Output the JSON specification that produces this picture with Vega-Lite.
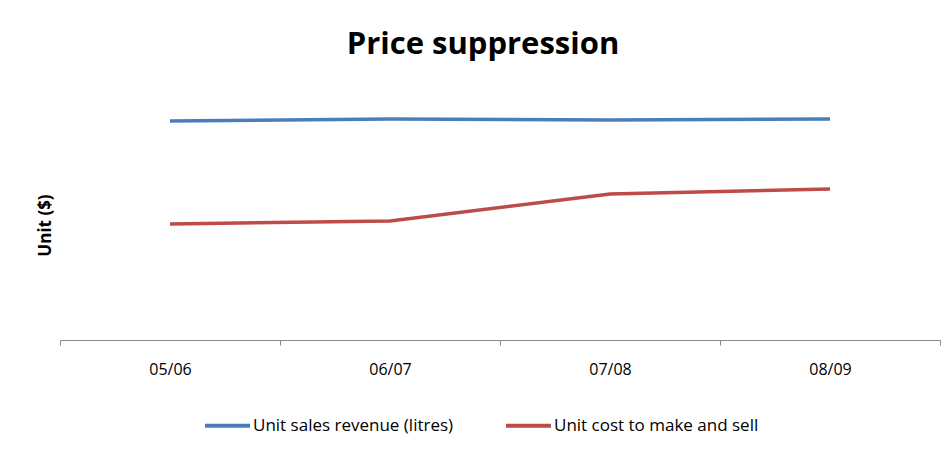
{
  "$schema": "https://vega.github.io/schema/vega-lite/v6.json",
  "width": 880,
  "height": 250,
  "autosize": {"type": "none"},
  "padding": {"left": 60, "top": 90, "right": 8, "bottom": 112},
  "background": "white",
  "title": {
    "text": "Price suppression",
    "font": "Open Sans",
    "fontSize": 31,
    "fontWeight": "bold",
    "color": "black",
    "anchor": "middle",
    "dx": -17,
    "baseline": "alphabetic",
    "offset": 5
  },
  "data": {
    "values": [
      {"year": "05/06", "series": "Unit sales revenue (litres)", "value": 87.6},
      {"year": "06/07", "series": "Unit sales revenue (litres)", "value": 88.4},
      {"year": "07/08", "series": "Unit sales revenue (litres)", "value": 88.0},
      {"year": "08/09", "series": "Unit sales revenue (litres)", "value": 88.4},
      {"year": "05/06", "series": "Unit cost to make and sell", "value": 46.4},
      {"year": "06/07", "series": "Unit cost to make and sell", "value": 47.6},
      {"year": "07/08", "series": "Unit cost to make and sell", "value": 58.4},
      {"year": "08/09", "series": "Unit cost to make and sell", "value": 60.4}
    ]
  },
  "mark": {"type": "line", "strokeWidth": 3.5},
  "encoding": {
    "x": {
      "field": "year",
      "type": "ordinal",
      "scale": {"type": "band", "paddingInner": 0, "paddingOuter": 0},
      "axis": {
        "title": null,
        "labelAngle": 0,
        "labelFont": "Open Sans",
        "labelFontSize": 16,
        "labelColor": "black",
        "labelPadding": 16,
        "tickBand": "extent",
        "tickSize": 5,
        "tickColor": "#888888",
        "domainColor": "#888888",
        "grid": false
      }
    },
    "y": {
      "field": "value",
      "type": "quantitative",
      "scale": {"domain": [0, 100]},
      "axis": {
        "title": "Unit ($)",
        "titleFont": "Open Sans",
        "titleFontSize": 17,
        "titleFontWeight": "bold",
        "titleColor": "black",
        "titleX": -15,
        "titleY": 135,
        "titleAngle": -90,
        "titleAlign": "center",
        "titleBaseline": "middle",
        "labels": false,
        "ticks": false,
        "domain": false,
        "grid": false
      }
    },
    "color": {
      "field": "series",
      "type": "nominal",
      "sort": ["Unit sales revenue (litres)", "Unit cost to make and sell"],
      "scale": {
        "domain": ["Unit sales revenue (litres)", "Unit cost to make and sell"],
        "range": ["#4A7EBB", "#BE4B48"]
      },
      "legend": {
        "title": null,
        "orient": "none",
        "direction": "horizontal",
        "legendX": 143,
        "legendY": 311,
        "symbolType": "stroke",
        "symbolSize": 2025,
        "symbolStrokeWidth": 4,
        "labelFont": "Open Sans",
        "labelFontSize": 17,
        "labelColor": "black",
        "labelOffset": 1,
        "columnPadding": 44,
        "labelLimit": 400
      }
    }
  },
  "config": {"view": {"stroke": null}}
}
